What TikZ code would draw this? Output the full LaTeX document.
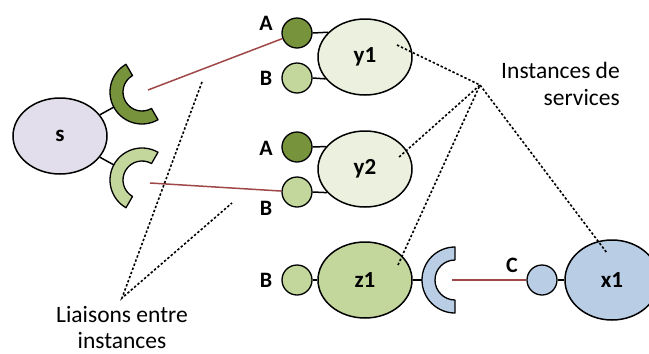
\documentclass[tikz,border=0pt]{standalone}
\usepackage{fontspec}
\setmainfont{Carlito}
\usetikzlibrary{shapes.geometric,calc}
\definecolor{dkgreen}{HTML}{77933C}
\definecolor{ltgreen}{HTML}{C3D69B}
\definecolor{palegreen}{HTML}{EBF1DE}
\definecolor{lavender}{HTML}{E3DEEB}
\definecolor{paleblue}{HTML}{B9CDE5}
\definecolor{linkred}{HTML}{A04848}
\begin{document}
\begin{tikzpicture}[x=1pt,y=-1pt,
  svc/.style={ellipse, draw=black, line width=1.5pt, inner sep=0pt,
    minimum width=94pt, minimum height=76pt,
    font=\fontsize{23}{23}\selectfont\bfseries},
  port/.style={circle, draw=black, line width=1.3pt, inner sep=0pt, minimum size=30pt},
  lbl/.style={font=\fontsize{22}{22}\selectfont\bfseries, inner sep=0pt},
  recept/.style={draw=black, line width=1.3pt, line join=round},
  wire/.style={draw=black, line width=1.5pt},
  link/.style={draw=linkred, line width=1.5pt},
  lead/.style={draw=black, line width=1.6pt, dash pattern=on 2.4pt off 2pt},
  note/.style={font=\fontsize{23.5}{28}\selectfont, inner sep=0pt}
]
\useasboundingbox (0,0) rectangle (649,354);

% service instances
\node[svc, fill=lavender] (s) at (60,136) {s};
\node[svc, fill=palegreen] (y1) at (365,57) {y1};
\node[svc, fill=palegreen] (y2) at (365,169) {y2};
\node[svc, fill=ltgreen] (z1) at (365,280) {z1};
\node[svc, fill=paleblue, minimum height=80pt] (x1) at (612,280) {x1};

% ports
\node[port, fill=dkgreen] (A1) at (297,33) {};
\node[port, fill=ltgreen] (B1) at (297,78) {};
\node[port, fill=dkgreen] (A2) at (297,147) {};
\node[port, fill=ltgreen] (B2) at (297,192) {};
\node[port, fill=ltgreen] (B3) at (297,280) {};
\node[port, fill=paleblue] (C1) at (542,280) {};

\draw[wire] (A1.east) -- (y1.146.6);
\draw[wire] (B1.east) -- (y1.-151.8);
\draw[wire] (A2.east) -- (y2.150.1);
\draw[wire] (B2.east) -- (y2.-148.4);
\draw[wire] (B3.east) -- (z1.west);
\draw[wire] (C1.east) -- (x1.west);

% port labels
\node[lbl] (lA1) at (266,23) {A};
\node[lbl] (lB1) at (266,78) {B};
\node[lbl] (lA2) at (266,148) {A};
\node[lbl] (lB2) at (266,208) {B};
\node[lbl] (lB3) at (266,280) {B};
\node[lbl] (lC1) at (512,265) {C};

% receptacles
\coordinate (R1) at (142,92);
\coordinate (R2) at (142,180);
\coordinate (R3) at (455,280);
\draw[recept, fill=dkgreen] ($(R1)+(240:32)$) arc[start angle=240, end angle=60, radius=32]
  -- ($(R1)+(60:19)$) arc[start angle=60, end angle=240, radius=19] -- cycle;
\draw[recept, fill=ltgreen] ($(R2)+(120:32)$) arc[start angle=120, end angle=300, radius=32]
  -- ($(R2)+(300:19)$) arc[start angle=300, end angle=120, radius=19] -- cycle;
\draw[recept, fill=paleblue] ($(R3)+(90:33)$) arc[start angle=90, end angle=270, radius=33]
  -- ($(R3)+(270:20)$) arc[start angle=270, end angle=90, radius=20] -- cycle;

\coordinate (R1a) at ($(R1)+(151.8:32)$);
\coordinate (R2a) at ($(R2)+(208.2:32)$);
\coordinate (R3a) at ($(R3)+(180:33)$);
\draw[wire] (s.28) -- (R1a);
\draw[wire] (s.-28) -- (R2a);
\draw[wire] (z1.east) -- (R3a);

% bindings
\coordinate (L1) at (148,90);
\coordinate (L2) at (150,183);
\coordinate (L3) at (452,280);
\draw[link] (L1) -- (A1);
\draw[link] (L2) -- (B2);
\draw[link] (L3) -- (C1);

% annotation leaders
\coordinate (H1) at (480,85);
\coordinate (H2) at (122,298);
\coordinate (e1) at (397,45);
\coordinate (e2) at (398,158);
\coordinate (e3) at (398,265);
\coordinate (e4) at (607,253);
\coordinate (f1) at (202,82);
\coordinate (f2) at (232,203);
\draw[lead] (e1) -- (H1) -- (e2);
\draw[lead] (e3) -- (H1) -- (e4);
\draw[lead] (f1) -- (H2) -- (f2);

\node[note, anchor=base east] (n1a) at (620,78) {Instances de};
\node[note, anchor=base east] (n1b) at (620,105) {services};
\node[note, anchor=base] (n2a) at (122,322) {Liaisons entre};
\node[note, anchor=base] (n2b) at (122,348) {instances};
\end{tikzpicture}
\end{document}
